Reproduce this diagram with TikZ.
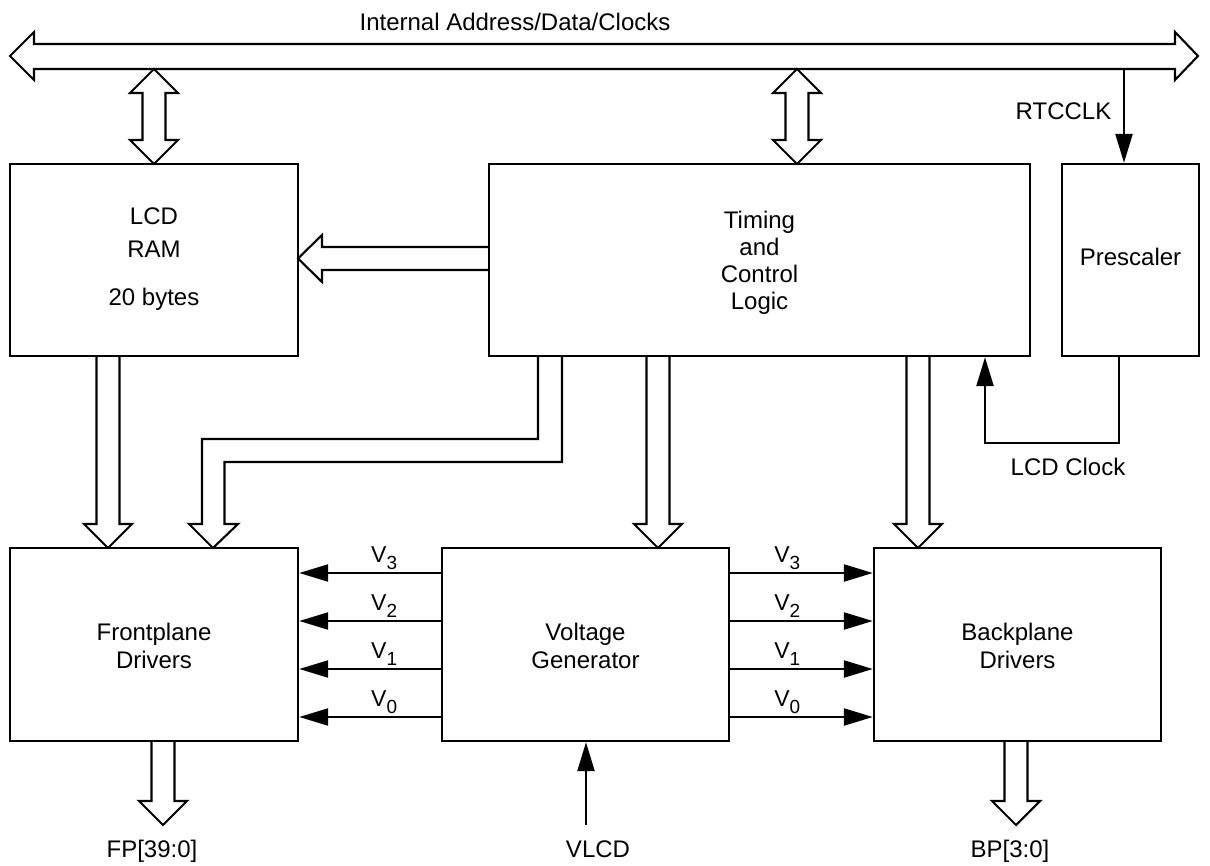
\documentclass[tikz,border=0pt]{standalone}
\usepackage{fontspec}
\setmainfont{Liberation Sans}
\usetikzlibrary{arrows.meta}
\newcommand\hdown[3]{% center x, top y, tip y
  \draw[hollow] (#1-11.5,#2) -- (#1-11.5,#3-24) -- (#1-24,#3-24) -- (#1,#3) -- (#1+24,#3-24) -- (#1+11.5,#3-24) -- (#1+11.5,#2);}
\newcommand\hbidir[3]{% center x, top tip y, bottom tip y
  \draw[hollow] (#1,#2) -- (#1+24,#2+24) -- (#1+11.5,#2+24) -- (#1+11.5,#3-24) -- (#1+24,#3-24) -- (#1,#3) -- (#1-24,#3-24) -- (#1-11.5,#3-24) -- (#1-11.5,#2+24) -- (#1-24,#2+24) -- cycle;}
\begin{document}
\begin{tikzpicture}[x=1pt,y=-1pt,
  box/.style={draw, line width=2.4pt, minimum width=#1, minimum height=192pt, inner sep=0pt},
  hollow/.style={draw, line width=2.1pt, line join=miter},
  wire/.style={draw, line width=2.4pt},
  tipA/.style={-{Triangle[length=29pt,width=17pt]}},
  lbl/.style={font=\fontsize{24}{28}\selectfont, inner sep=0pt, anchor=base},
  vlab/.style={font=\fontsize{23}{26}\selectfont, inner sep=0pt, anchor=base, yshift=11pt}]
\useasboundingbox (0,0) rectangle (1210,866);

% boxes
\node[box=288pt] (ram) at (154,260) {};
\node[box=541pt] (tim) at (759.5,260) {};
\node[box=137pt] (pre) at (1130.5,260) {};
\node[box=288pt, minimum height=193pt] (fp) at (154,644.5) {};
\node[box=287pt, minimum height=193pt] (vg) at (585.5,644.5) {};
\node[box=287pt, minimum height=193pt] (bp) at (1017.5,644.5) {};

% box texts
\node[lbl] (t1) at (154,225) {LCD};
\node[lbl] (t2) at (154,258) {RAM};
\node[lbl] (t3) at (154,306) {20 bytes};
\node[lbl] (t4) at (759.5,229) {Timing};
\node[lbl] (t5) at (759.5,256) {and};
\node[lbl] (t6) at (759.5,283) {Control};
\node[lbl] (t7) at (759.5,310) {Logic};
\node[lbl] (t8) at (1130.5,266) {Prescaler};
\node[lbl] (t9) at (154,640) {Frontplane};
\node[lbl] (t10) at (154,668) {Drivers};
\node[lbl] (t11) at (585.5,640) {Voltage};
\node[lbl] (t12) at (585.5,668) {Generator};
\node[lbl] (t13) at (1017.5,640) {Backplane};
\node[lbl] (t14) at (1017.5,668) {Drivers};

% outside labels
\node[lbl] (bus) at (515,31) {Internal Address/Data/Clocks};
\node[lbl] (rtcl) at (1063.5,120) {RTCCLK};
\node[lbl] (lcl) at (1068,475) {LCD Clock};
\node[lbl] (fpl) at (152,857) {FP[39:0]};
\node[lbl] (vll) at (598,857) {VLCD};
\node[lbl] (bpl) at (1010,857) {BP[3:0]};

% internal bus
\draw[hollow] (10,56) -- (34,32) -- (34,44) -- (1175,44) -- (1175,32) -- (1198,56) -- (1175,80) -- (1175,69) -- (34,69) -- (34,80) -- cycle;

% bus <-> blocks
\hbidir{154}{69}{164}
\hbidir{797}{69}{164}

% RTCCLK
\coordinate (rtc) at (1124,69);
\draw[wire,tipA] (rtc) -- (rtc |- pre.north);

% LCD clock
\coordinate (lc1) at (1119,443);
\coordinate (lc2) at (985,443);
\draw[wire,tipA] (lc1 |- pre.south) -- (lc1) -- (lc2) -- (lc2 |- tim.south);

% Timing -> RAM
\draw[hollow] (489,247) -- (322,247) -- (322,235) -- (298,258.5) -- (322,282) -- (322,270) -- (489,270);

% vertical hollow arrows
\hdown{108}{356}{548}
\hdown{658}{356}{548}
\hdown{918}{356}{548}
\hdown{163}{741}{825}
\hdown{1016}{741}{825}

% bent arrow Timing -> Frontplane
\draw[hollow] (538,356) -- (538,439) -- (202,439) -- (202,524) -- (189,524) -- (213,548) -- (238,524) -- (224.5,524) -- (224.5,462) -- (562,462) -- (562,356);

% voltage lines
\foreach \yy/\n in {573/3,621/2,669/1,717/0}{
  \coordinate (l\n) at (0,\yy);
  \draw[wire,tipA] (vg.west |- l\n) -- node[vlab, pos=0.4] {V\raisebox{-7pt}{\fontsize{19}{19}\selectfont \n}} (fp.east |- l\n);
  \draw[wire,tipA] (vg.east |- l\n) -- node[vlab, pos=0.4] {V\raisebox{-7pt}{\fontsize{19}{19}\selectfont \n}} (bp.west |- l\n);
}

% VLCD
\coordinate (vl) at (586,825);
\draw[wire,tipA] (vl) -- (vl |- vg.south);
\end{tikzpicture}
\end{document}
